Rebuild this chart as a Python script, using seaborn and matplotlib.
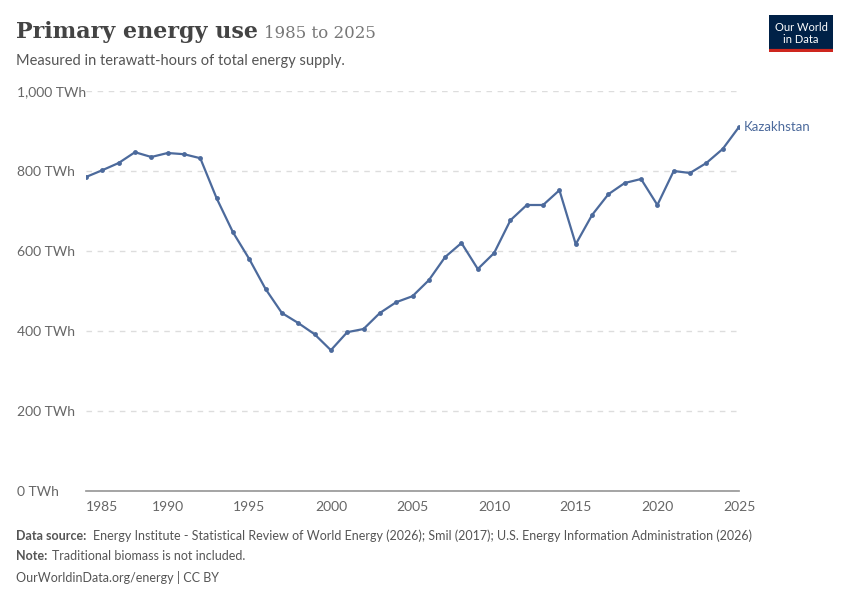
import matplotlib
matplotlib.use("Agg")
import matplotlib.pyplot as plt
import seaborn as sns
import pandas as pd

years = list(range(1985, 2026))
twh = [785, 802, 820, 847, 835, 845, 842, 832, 732, 647, 580, 505, 445, 420, 392,
       352, 397, 405, 445, 472, 487, 527, 585, 620, 555, 595, 677, 715, 715, 752,
       617, 690, 742, 770, 780, 715, 800, 795, 820, 855, 910]
country = "Kazakhstan"
df = pd.DataFrame({"year": years, "twh": twh})

sns.set_theme(style="white")
plt.rcParams['font.family'] = ['Lato', 'DejaVu Sans']
color = "#4c6a9c"

fig = plt.figure(figsize=(8.5, 6), dpi=100)
ax = fig.add_axes([86/850, 1-491/600, (739-86)/850, 400/600])
sns.lineplot(data=df, x="year", y="twh", ax=ax, color=color, linewidth=1.6,
             marker="o", markersize=3.5, markeredgewidth=0)
ax.set_xlim(1985, 2025)
ax.set_ylim(0, 1000)
ax.set_yticks(range(0, 1001, 200))
ax.set_yticklabels(["0 TWh", "200 TWh", "400 TWh", "600 TWh", "800 TWh", "1,000 TWh"])
ax.set_xticks([1985, 1990, 1995, 2000, 2005, 2010, 2015, 2020, 2025])
ax.tick_params(axis="both", labelsize=10, colors="#666666", length=0)
ax.tick_params(axis="x", length=4, color="#999999")
for lab in ax.get_yticklabels():
    lab.set_horizontalalignment("left")
ax.tick_params(axis="y", pad=50)
ax.get_xticklabels()[0].set_horizontalalignment("left")
ax.grid(axis="y", linestyle=(0, (4, 4)), color="#dddddd", linewidth=1)
ax.set_xlabel("")
ax.set_ylabel("")
for s in ["top", "right", "left"]:
    ax.spines[s].set_visible(False)
ax.spines["bottom"].set_color("#999999")
ax.text(years[-1] + 0.3, twh[-1], country, color=color, fontsize=9.5, va="center")

title = fig.text(16/850, 1-32/600, "Primary energy use", fontsize=16, fontweight="bold",
                 color="#444444", family=["DejaVu Serif"], va="center")
fig.canvas.draw()
tb = title.get_window_extent()
fig.text((tb.x1 + 6)/850, 1-33/600, "1985 to 2025", fontsize=12, color="#777777",
         family=["DejaVu Serif"], va="center")
fig.text(16/850, 1-61/600, "Measured in terawatt-hours of total energy supply.",
         fontsize=10.5, color="#555555", va="center")

logo = fig.add_axes([769/850, 1-52/600, 64/850, 37/600])
logo.set_facecolor("#002147")
logo.set_xticks([]); logo.set_yticks([])
for s in logo.spines.values():
    s.set_visible(False)
logo.axhline(0.03, color="#ce261e", linewidth=3)
logo.text(0.5, 0.5, "Our World\nin Data", color="white", fontsize=8,
          ha="center", va="center", transform=logo.transAxes, linespacing=1.1)

fig.text(16/850, 1-536/600, "Data source:", fontsize=9, color="#555555",
         va="center", fontweight="bold")
fig.text(93/850, 1-536/600, "Energy Institute - Statistical Review of World Energy (2026); Smil (2017); U.S. Energy Information Administration (2026)",
         fontsize=9, color="#555555", va="center")
fig.text(16/850, 1-556/600, "Note:", fontsize=9, color="#555555", va="center",
         fontweight="bold")
fig.text(52/850, 1-556/600, "Traditional biomass is not included.",
         fontsize=9, color="#555555", va="center")
fig.text(16/850, 1-577/600, "OurWorldinData.org/energy | CC BY",
         fontsize=9, color="#555555", va="center")

fig.savefig("out.png", dpi=100)
